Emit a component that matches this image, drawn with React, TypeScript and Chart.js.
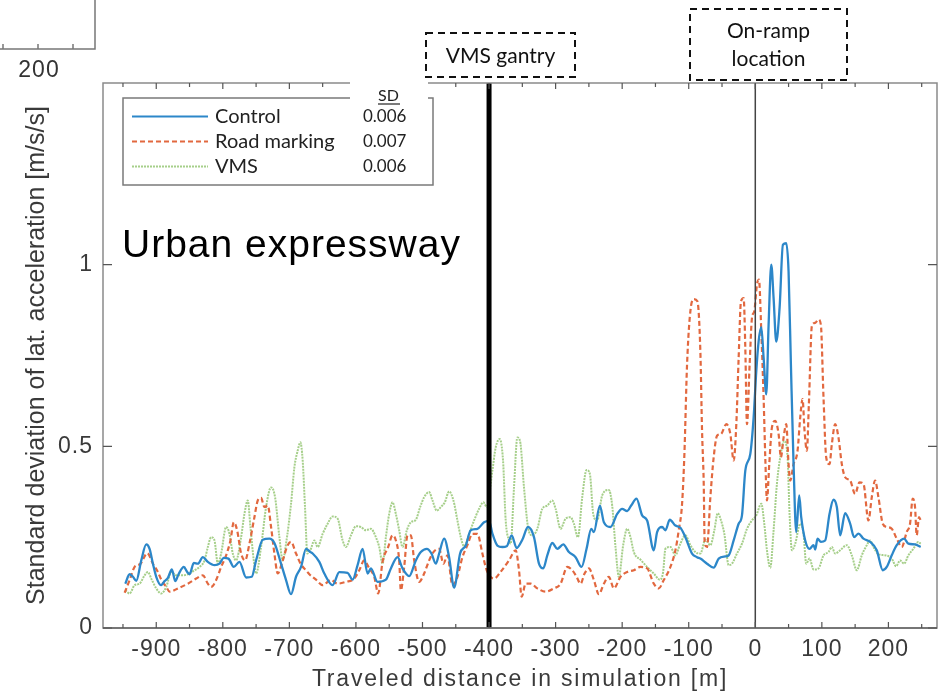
import { useEffect, useRef } from 'react';
import { Chart, registerables } from 'chart.js';

Chart.register(...registerables);

// ---------- data ----------
const controlX = [-946.5,-940,-935,-930,-922.5,-915,-910,-905,-900,-893,-887.5,-882.5,-876.5,-871.5,-866.5,-858.5,-853.5,-850,-843.5,-837.5,-830,-822.5,-812.5,-805,-798.5,-791.5,-783.5,-775,-765,-756.5,-750,-740,-730,-722.5,-712.5,-705,-697.5,-690,-682.5,-675,-668.5,-665,-655,-647.5,-635,-625,-612.5,-605,-597.5,-590,-582.5,-577.5,-567.5,-555,-547.5,-537.5,-530,-520,-510,-502.5,-493.5,-486.5,-480,-475,-467.5,-460,-452.5,-443.5,-435,-427.5,-417.5,-407.5,-400,-395,-387.5,-380,-373.5,-366,-358.5,-350,-341.5,-332.5,-325,-318.5,-312.5,-305,-297.5,-288.5,-280,-270,-261,-253.5,-246.5,-242.5,-233.5,-227.5,-217.5,-207.5,-200,-192.5,-186.5,-178.5,-170,-162.5,-152.5,-147.5,-140,-135,-128.5,-120,-112.5,-105,-95,-87.5,-82.5,-72.5,-62.5,-55,-45,-40,-32.5,-25,-20,-15,-7.5,-2.5,1.5,5,9,12.5,16.5,20,24,27.5,31.5,36.5,41.5,46.5,50,53.5,57.5,61.5,66,69,75,81.5,87.5,90,93.5,98.5,105,111.5,117.5,122.5,127.5,135,142.5,148.5,155,162.5,172.5,182.5,191.5,197.5,205,212.5,223.5,230,240,248.5];
const controlY = [0.122,0.148,0.141,0.130,0.186,0.230,0.218,0.177,0.141,0.118,0.129,0.138,0.161,0.129,0.148,0.168,0.154,0.148,0.179,0.177,0.195,0.182,0.173,0.177,0.193,0.191,0.168,0.182,0.139,0.141,0.186,0.243,0.246,0.234,0.177,0.132,0.093,0.141,0.168,0.218,0.209,0.205,0.182,0.150,0.118,0.154,0.152,0.133,0.173,0.218,0.150,0.164,0.127,0.133,0.164,0.195,0.164,0.143,0.186,0.209,0.218,0.205,0.177,0.205,0.246,0.195,0.111,0.205,0.227,0.269,0.273,0.291,0.295,0.260,0.227,0.223,0.225,0.255,0.220,0.243,0.278,0.250,0.177,0.164,0.200,0.234,0.218,0.230,0.209,0.195,0.168,0.218,0.273,0.264,0.337,0.291,0.278,0.314,0.328,0.322,0.337,0.356,0.310,0.296,0.214,0.264,0.278,0.269,0.298,0.282,0.276,0.250,0.205,0.195,0.191,0.177,0.166,0.191,0.197,0.200,0.241,0.287,0.310,0.433,0.479,0.579,0.707,0.789,0.828,0.744,0.643,0.835,1.000,0.908,0.788,0.881,1.055,1.059,0.981,0.726,0.451,0.264,0.365,0.305,0.241,0.218,0.228,0.216,0.246,0.237,0.241,0.314,0.353,0.333,0.255,0.316,0.287,0.250,0.260,0.246,0.237,0.214,0.159,0.168,0.200,0.228,0.246,0.232,0.230,0.223];

const roadX = [-947.5,-940,-932.5,-923.5,-913.5,-905,-897.5,-892.5,-885,-880,-867.5,-852.5,-840,-830,-822.5,-817.5,-810,-802.5,-795,-788.5,-783.5,-778.5,-772.5,-766.5,-760,-752.5,-747.5,-742.5,-737.5,-732.5,-727.5,-722.5,-717.5,-710,-702.5,-697.5,-690,-682.5,-675,-670,-660,-650,-637.5,-627.5,-615,-602.5,-595,-587.5,-580,-572.5,-566.5,-560,-551.5,-545,-540,-535,-532.5,-527.5,-522.5,-517.5,-512.5,-505,-497.5,-490,-483.5,-475,-468.5,-462.5,-455,-447.5,-440,-432.5,-425,-417.5,-410,-403.5,-392.5,-382.5,-370,-360,-355,-351,-345,-337.5,-327.5,-315,-302.5,-292.5,-282.5,-275,-268.5,-262.5,-256.5,-250,-242.5,-235,-227.5,-220,-212.5,-202.5,-192.5,-182.5,-172.5,-162.5,-152.5,-145,-137.5,-127.5,-120,-115,-110,-106.5,-102.5,-97,-92,-87,-82.5,-80,-77.5,-76,-72.5,-67.5,-62.5,-57.5,-51.5,-43.5,-37.5,-32.5,-28.5,-25,-21.5,-17.5,-15,-12.5,-8.5,-5,-1.5,2.5,5.5,9,12.5,15,17.5,21,25,30,35,38.5,42.5,46.5,50,52.5,57.5,63.5,67.5,71,74,77.5,80.5,85,90,95,98.5,102.5,106.5,111.5,115,120,125,130,135,142.5,150,156.5,162.5,170,175,180,185,191.5,197.5,205,212.5,220,227.5,232.5,236.5,240,242.5,246,248.5];
const roadY = [0.097,0.132,0.168,0.177,0.206,0.177,0.154,0.133,0.113,0.100,0.109,0.122,0.136,0.145,0.122,0.113,0.132,0.168,0.200,0.241,0.291,0.269,0.205,0.186,0.232,0.305,0.351,0.358,0.333,0.337,0.278,0.205,0.150,0.186,0.228,0.237,0.205,0.175,0.159,0.148,0.133,0.118,0.132,0.122,0.127,0.136,0.159,0.186,0.164,0.141,0.095,0.182,0.223,0.255,0.241,0.186,0.104,0.168,0.255,0.255,0.186,0.127,0.150,0.186,0.209,0.218,0.177,0.200,0.118,0.141,0.195,0.228,0.259,0.259,0.205,0.159,0.136,0.155,0.186,0.214,0.159,0.086,0.122,0.122,0.109,0.100,0.109,0.122,0.168,0.159,0.141,0.122,0.150,0.164,0.132,0.093,0.122,0.141,0.109,0.141,0.154,0.159,0.168,0.164,0.122,0.109,0.132,0.168,0.214,0.269,0.342,0.479,0.726,0.880,0.905,0.899,0.760,0.543,0.400,0.232,0.223,0.360,0.470,0.529,0.534,0.561,0.534,0.461,0.561,0.744,0.899,0.908,0.771,0.561,0.726,0.853,0.872,0.945,0.959,0.817,0.634,0.470,0.351,0.451,0.552,0.570,0.534,0.470,0.524,0.561,0.451,0.406,0.451,0.488,0.579,0.630,0.543,0.488,0.616,0.831,0.840,0.849,0.835,0.634,0.470,0.451,0.506,0.561,0.524,0.451,0.415,0.406,0.369,0.401,0.397,0.296,0.360,0.406,0.360,0.287,0.278,0.273,0.246,0.223,0.264,0.287,0.356,0.333,0.255,0.305,0.296];

const vmsX = [-946.5,-940,-932.5,-925,-917.5,-912.5,-907.5,-900,-892.5,-885,-877.5,-870,-860,-850,-842.5,-835,-827.5,-822.5,-817.5,-812.5,-807.5,-802.5,-795,-790,-785,-780,-772.5,-767.5,-762.5,-758.5,-753.5,-750,-742.5,-735,-727.5,-721.5,-715,-710,-705,-697.5,-692.5,-687.5,-683.5,-680,-676.5,-673,-668.5,-662.5,-657.5,-650,-642.5,-635,-627.5,-620,-615,-607.5,-600,-592.5,-585,-577.5,-570,-565,-560,-555,-550,-545,-540,-535,-530,-523.5,-517.5,-510,-503.5,-497.5,-490,-485,-478.5,-472.5,-466.5,-460,-453.5,-447.5,-442.5,-437.5,-430,-422.5,-415,-408.5,-403.5,-395,-390,-384,-379,-375,-370,-367.5,-362.5,-357.5,-353.5,-347.5,-341.5,-335,-327.5,-320,-312.5,-305,-300,-292.5,-285,-277.5,-272.5,-266.5,-260,-253.5,-248.5,-243.5,-237.5,-230,-220,-215,-210,-205,-198.5,-192.5,-187.5,-182.5,-172.5,-162.5,-152.5,-143.5,-138.5,-135,-127.5,-120,-113.5,-105,-97.5,-90,-82.5,-75,-67.5,-61.5,-56.5,-51.5,-46.5,-40,-35,-27.5,-20,-12.5,-5,1.5,9,13.5,17.5,22.5,27.5,32.5,37.5,43.5,48.5,51.5,55,60,67.5,72.5,76.5,81.5,87.5,95,102.5,110,115,120,127.5,137.5,145,152.5,160,167.5,172.5,177.5,185,195,205,211.5,217.5,223.5,230,237.5,245,248.5];
const vmsY = [0.104,0.095,0.118,0.122,0.145,0.154,0.136,0.109,0.095,0.113,0.154,0.145,0.145,0.150,0.159,0.168,0.186,0.223,0.250,0.241,0.177,0.205,0.278,0.259,0.205,0.186,0.250,0.314,0.351,0.278,0.186,0.150,0.223,0.333,0.387,0.360,0.250,0.186,0.232,0.342,0.442,0.488,0.511,0.461,0.333,0.205,0.214,0.241,0.223,0.259,0.287,0.307,0.301,0.241,0.223,0.255,0.280,0.278,0.269,0.273,0.250,0.223,0.177,0.250,0.314,0.346,0.314,0.269,0.223,0.269,0.291,0.298,0.333,0.360,0.374,0.351,0.323,0.333,0.346,0.376,0.351,0.296,0.250,0.225,0.259,0.296,0.328,0.346,0.333,0.433,0.497,0.520,0.461,0.296,0.241,0.232,0.387,0.524,0.515,0.387,0.278,0.255,0.273,0.328,0.337,0.351,0.328,0.273,0.301,0.305,0.287,0.250,0.360,0.435,0.424,0.314,0.296,0.365,0.380,0.337,0.223,0.141,0.228,0.273,0.250,0.209,0.188,0.168,0.150,0.133,0.154,0.218,0.223,0.200,0.228,0.255,0.228,0.209,0.205,0.243,0.228,0.269,0.316,0.296,0.259,0.173,0.177,0.205,0.232,0.273,0.296,0.310,0.342,0.287,0.214,0.166,0.269,0.397,0.470,0.515,0.470,0.314,0.214,0.232,0.287,0.259,0.177,0.191,0.161,0.164,0.200,0.209,0.223,0.205,0.214,0.228,0.200,0.159,0.200,0.228,0.241,0.223,0.203,0.200,0.191,0.170,0.186,0.177,0.200,0.218,0.237,0.232];

const seriesNames = ['Control', 'Road marking', 'VMS'];
const seriesSD = ['0.006', '0.007', '0.006'];
const xTickValues = [-900, -800, -700, -600, -500, -400, -300, -200, -100, 0, 100, 200];
const yTickValues = [0, 0.5, 1];
const xMin = -980;
const xMax = 273;
const yMin = 0;
const yMax = 1.5;
const gantryX = -400;
const onRampX = 0;
const xTitle = 'Traveled distance in simulation [m]';
const yTitle = 'Standard deviation of lat. acceleration [m/s/s]';
const panelLabel = 'Urban expressway';
const gantryLabel = ['VMS gantry'];
const onRampLabel = ['On-ramp', 'location'];
const leftPanelTick = '200';

const pairs = (xs: number[], ys: number[]) => xs.map((x, i) => ({ x, y: ys[i] }));

const AXIS_FONT = "'Liberation Sans', Arial, sans-serif";
const NOTE_FONT = "Lato, 'Open Sans', sans-serif";

function dashedBox(ctx: CanvasRenderingContext2D, x0: number, y0: number, x1: number, y1: number) {
  ctx.save();
  ctx.strokeStyle = '#111';
  ctx.lineWidth = 2;
  ctx.setLineDash([7, 5]);
  ctx.strokeRect(x0, y0, x1 - x0, y1 - y0);
  ctx.restore();
}

function wrapSpacing(scale: any, method: string, spacing: string) {
  const orig = scale[method].bind(scale);
  scale[method] = (...args: any[]) => {
    const c = scale.ctx;
    c.save();
    c.letterSpacing = spacing;
    orig(...args);
    c.restore();
  };
}

const decorPlugin = {
  id: 'decor',
  beforeDraw(chart: any) {
    const xs = chart.scales.x;
    const ys = chart.scales.y;
    if (xs && !xs.__spaced) {
      wrapSpacing(xs, 'drawLabels', '1px');
      wrapSpacing(xs, 'drawTitle', '1.8px');
      xs.__spaced = true;
    }
    if (ys && !ys.__spaced) {
      wrapSpacing(ys, 'drawLabels', '1px');
      ys.__spaced = true;
    }
    const ctx = chart.ctx;
    ctx.save();
    ctx.fillStyle = '#fff';
    ctx.fillRect(0, 0, chart.width, chart.height);
    ctx.restore();
  },
  afterDatasetsDraw(chart: any) {
    const ctx: CanvasRenderingContext2D = chart.ctx;
    const { left, right, top, bottom } = chart.chartArea;
    const xs = chart.scales.x;
    const ys = chart.scales.y;

    // vertical reference lines
    ctx.save();
    ctx.strokeStyle = '#000';
    ctx.lineWidth = 5;
    const gx = xs.getPixelForValue(gantryX);
    ctx.beginPath(); ctx.moveTo(gx, top); ctx.lineTo(gx, bottom); ctx.stroke();
    ctx.strokeStyle = '#444';
    ctx.lineWidth = 1.5;
    const ox = xs.getPixelForValue(onRampX);
    ctx.beginPath(); ctx.moveTo(ox, top); ctx.lineTo(ox, bottom); ctx.stroke();
    ctx.restore();

    // frame
    ctx.save();
    ctx.strokeStyle = '#8a8a8a';
    ctx.lineWidth = 1.5;
    ctx.strokeRect(left, top, right - left, bottom - top);
    ctx.strokeStyle = '#666';
    ctx.beginPath(); ctx.moveTo(left, bottom); ctx.lineTo(right, bottom); ctx.stroke();
    ctx.strokeStyle = '#555';
    ctx.lineWidth = 1.2;
    for (let v = -950; v <= 250; v += 50) {
      const px = xs.getPixelForValue(v);
      const len = v % 100 === 0 ? 6 : 4;
      ctx.beginPath();
      ctx.moveTo(px, bottom); ctx.lineTo(px, bottom - len);
      ctx.moveTo(px, top); ctx.lineTo(px, top + len);
      ctx.stroke();
    }
    for (const v of yTickValues) {
      const py = ys.getPixelForValue(v);
      ctx.beginPath();
      ctx.moveTo(left, py); ctx.lineTo(left + 9, py);
      ctx.moveTo(right, py); ctx.lineTo(right - 9, py);
      ctx.stroke();
    }
    ctx.restore();

    // legend
    const lx0 = 123, ly0 = 98, lx1 = 433, ly1 = 185;
    ctx.save();
    ctx.fillStyle = '#fff';
    ctx.fillRect(lx0, ly0, lx1 - lx0, ly1 - ly0);
    ctx.strokeStyle = '#7a7a7a';
    ctx.lineWidth = 1.5;
    ctx.strokeRect(lx0, ly0, lx1 - lx0, ly1 - ly0);
    ctx.fillStyle = '#fff';
    ctx.fillRect(350, 80, 78, 19);
    ctx.fillStyle = '#222';
    ctx.font = `16px ${NOTE_FONT}`;
    ctx.textAlign = 'center';
    ctx.textBaseline = 'middle';
    ctx.fillText('SD', 388.5, 96);
    ctx.lineWidth = 1.2;
    ctx.strokeStyle = '#222';
    ctx.beginPath(); ctx.moveTo(378, 104); ctx.lineTo(400, 104); ctx.stroke();
    chart.data.datasets.forEach((ds: any, i: number) => {
      const yy = 116.5 + i * 25;
      ctx.save();
      ctx.strokeStyle = ds.borderColor;
      ctx.lineWidth = Math.min(ds.borderWidth, 2);
      ctx.setLineDash(ds.borderDash || []);
      ctx.beginPath(); ctx.moveTo(132, yy); ctx.lineTo(208, yy); ctx.stroke();
      ctx.restore();
      ctx.fillStyle = '#222';
      ctx.textAlign = 'left';
      ctx.font = `20px ${NOTE_FONT}`;
      ctx.fillText(seriesNames[i], 215, yy);
      ctx.font = `17px ${NOTE_FONT}`;
      ctx.fillText(seriesSD[i], 363, yy);
    });
    ctx.restore();

    // panel label
    ctx.save();
    ctx.fillStyle = '#000';
    ctx.font = `39px ${AXIS_FONT}`;
    (ctx as any).letterSpacing = '1px';
    ctx.textAlign = 'left';
    ctx.textBaseline = 'alphabetic';
    ctx.fillText(panelLabel, 122, 257);
    ctx.restore();

    // annotation boxes above plot
    ctx.save();
    dashedBox(ctx, 426, 33, 575, 77);
    dashedBox(ctx, 690, 9, 847, 80);
    ctx.fillStyle = '#111';
    ctx.font = `21px ${NOTE_FONT}`;
    ctx.textAlign = 'center';
    ctx.textBaseline = 'middle';
    ctx.fillText(gantryLabel[0], 500.5, 56);
    ctx.fillText(onRampLabel[0], 768.5, 31);
    ctx.fillText(onRampLabel[1], 768.5, 59);
    ctx.restore();

    // fragment of neighbouring panel (top-left)
    ctx.save();
    ctx.strokeStyle = '#777';
    ctx.lineWidth = 1.5;
    ctx.beginPath();
    ctx.moveTo(95, 0); ctx.lineTo(95, 49); ctx.lineTo(0, 49);
    for (const tx of [3, 38, 73]) { ctx.moveTo(tx, 49); ctx.lineTo(tx, 44); }
    ctx.stroke();
    ctx.fillStyle = '#333';
    ctx.font = `23px ${AXIS_FONT}`;
    (ctx as any).letterSpacing = '1px';
    ctx.textAlign = 'center';
    ctx.textBaseline = 'middle';
    ctx.fillText(leftPanelTick, 39, 71);
    ctx.restore();
  },
};

export default function App() {
  const ref = useRef<HTMLCanvasElement | null>(null);
  useEffect(() => {
    if (!ref.current) return;
    const chart = new Chart(ref.current, {
      type: 'line',
      data: {
        datasets: [
          {
            label: seriesNames[0],
            data: pairs(controlX, controlY),
            borderColor: '#2c87c9',
            borderWidth: 2.3,
            cubicInterpolationMode: 'monotone',
            pointRadius: 0,
            order: 1,
          },
          {
            label: seriesNames[1],
            data: pairs(roadX, roadY),
            borderColor: '#e2683f',
            borderWidth: 2.2,
            borderDash: [5, 3],
            cubicInterpolationMode: 'monotone',
            pointRadius: 0,
            order: 2,
          },
          {
            label: seriesNames[2],
            data: pairs(vmsX, vmsY),
            borderColor: '#a6cf8a',
            borderWidth: 2,
            borderDash: [2, 1],
            cubicInterpolationMode: 'monotone',
            pointRadius: 0,
            order: 3,
          },
        ],
      },
      options: {
        animation: false,
        responsive: false,
        devicePixelRatio: 1,
        parsing: false as any,
        layout: { padding: { top: 83, right: 9, left: 0, bottom: 0 } },
        plugins: { legend: { display: false }, tooltip: { enabled: false } },
        scales: {
          x: {
            type: 'linear',
            min: xMin,
            max: xMax,
            afterBuildTicks: (s: any) => { s.ticks = xTickValues.map((value) => ({ value })); },
            afterFit: (s: any) => { s.height = 63; },
            grid: { display: false, drawTicks: false },
            border: { display: false },
            ticks: {
              autoSkip: false,
              maxRotation: 0,
              padding: 8,
              color: '#3a3a3a',
              font: { family: AXIS_FONT, size: 23 },
              callback: (v: any) => String(v),
            },
            title: {
              display: true,
              text: xTitle,
              color: '#3a3a3a',
              font: { family: AXIS_FONT, size: 23, lineHeight: 1 },
              padding: { top: 0, bottom: 0 },
            },
          },
          y: {
            type: 'linear',
            min: yMin,
            max: yMax,
            afterBuildTicks: (s: any) => { s.ticks = yTickValues.map((value) => ({ value })); },
            afterFit: (s: any) => { s.width = 103; },
            grid: { display: false, drawTicks: false },
            border: { display: false },
            ticks: {
              padding: 10,
              color: '#3a3a3a',
              font: { family: AXIS_FONT, size: 23 },
              callback: (v: any) => String(v),
            },
            title: {
              display: true,
              text: yTitle,
              color: '#3a3a3a',
              font: { family: AXIS_FONT, size: 25, lineHeight: 1 },
              padding: { top: 25, bottom: 0 },
            },
          },
        },
      },
      plugins: [decorPlugin],
    } as any);
    return () => chart.destroy();
  }, []);
  return (
    <div style={{ position: 'absolute', left: 0, top: 0, width: 946, height: 691, background: '#fff' }}>
      <canvas ref={ref} width={946} height={691} style={{ display: 'block', width: 946, height: 691 }} />
    </div>
  );
}
